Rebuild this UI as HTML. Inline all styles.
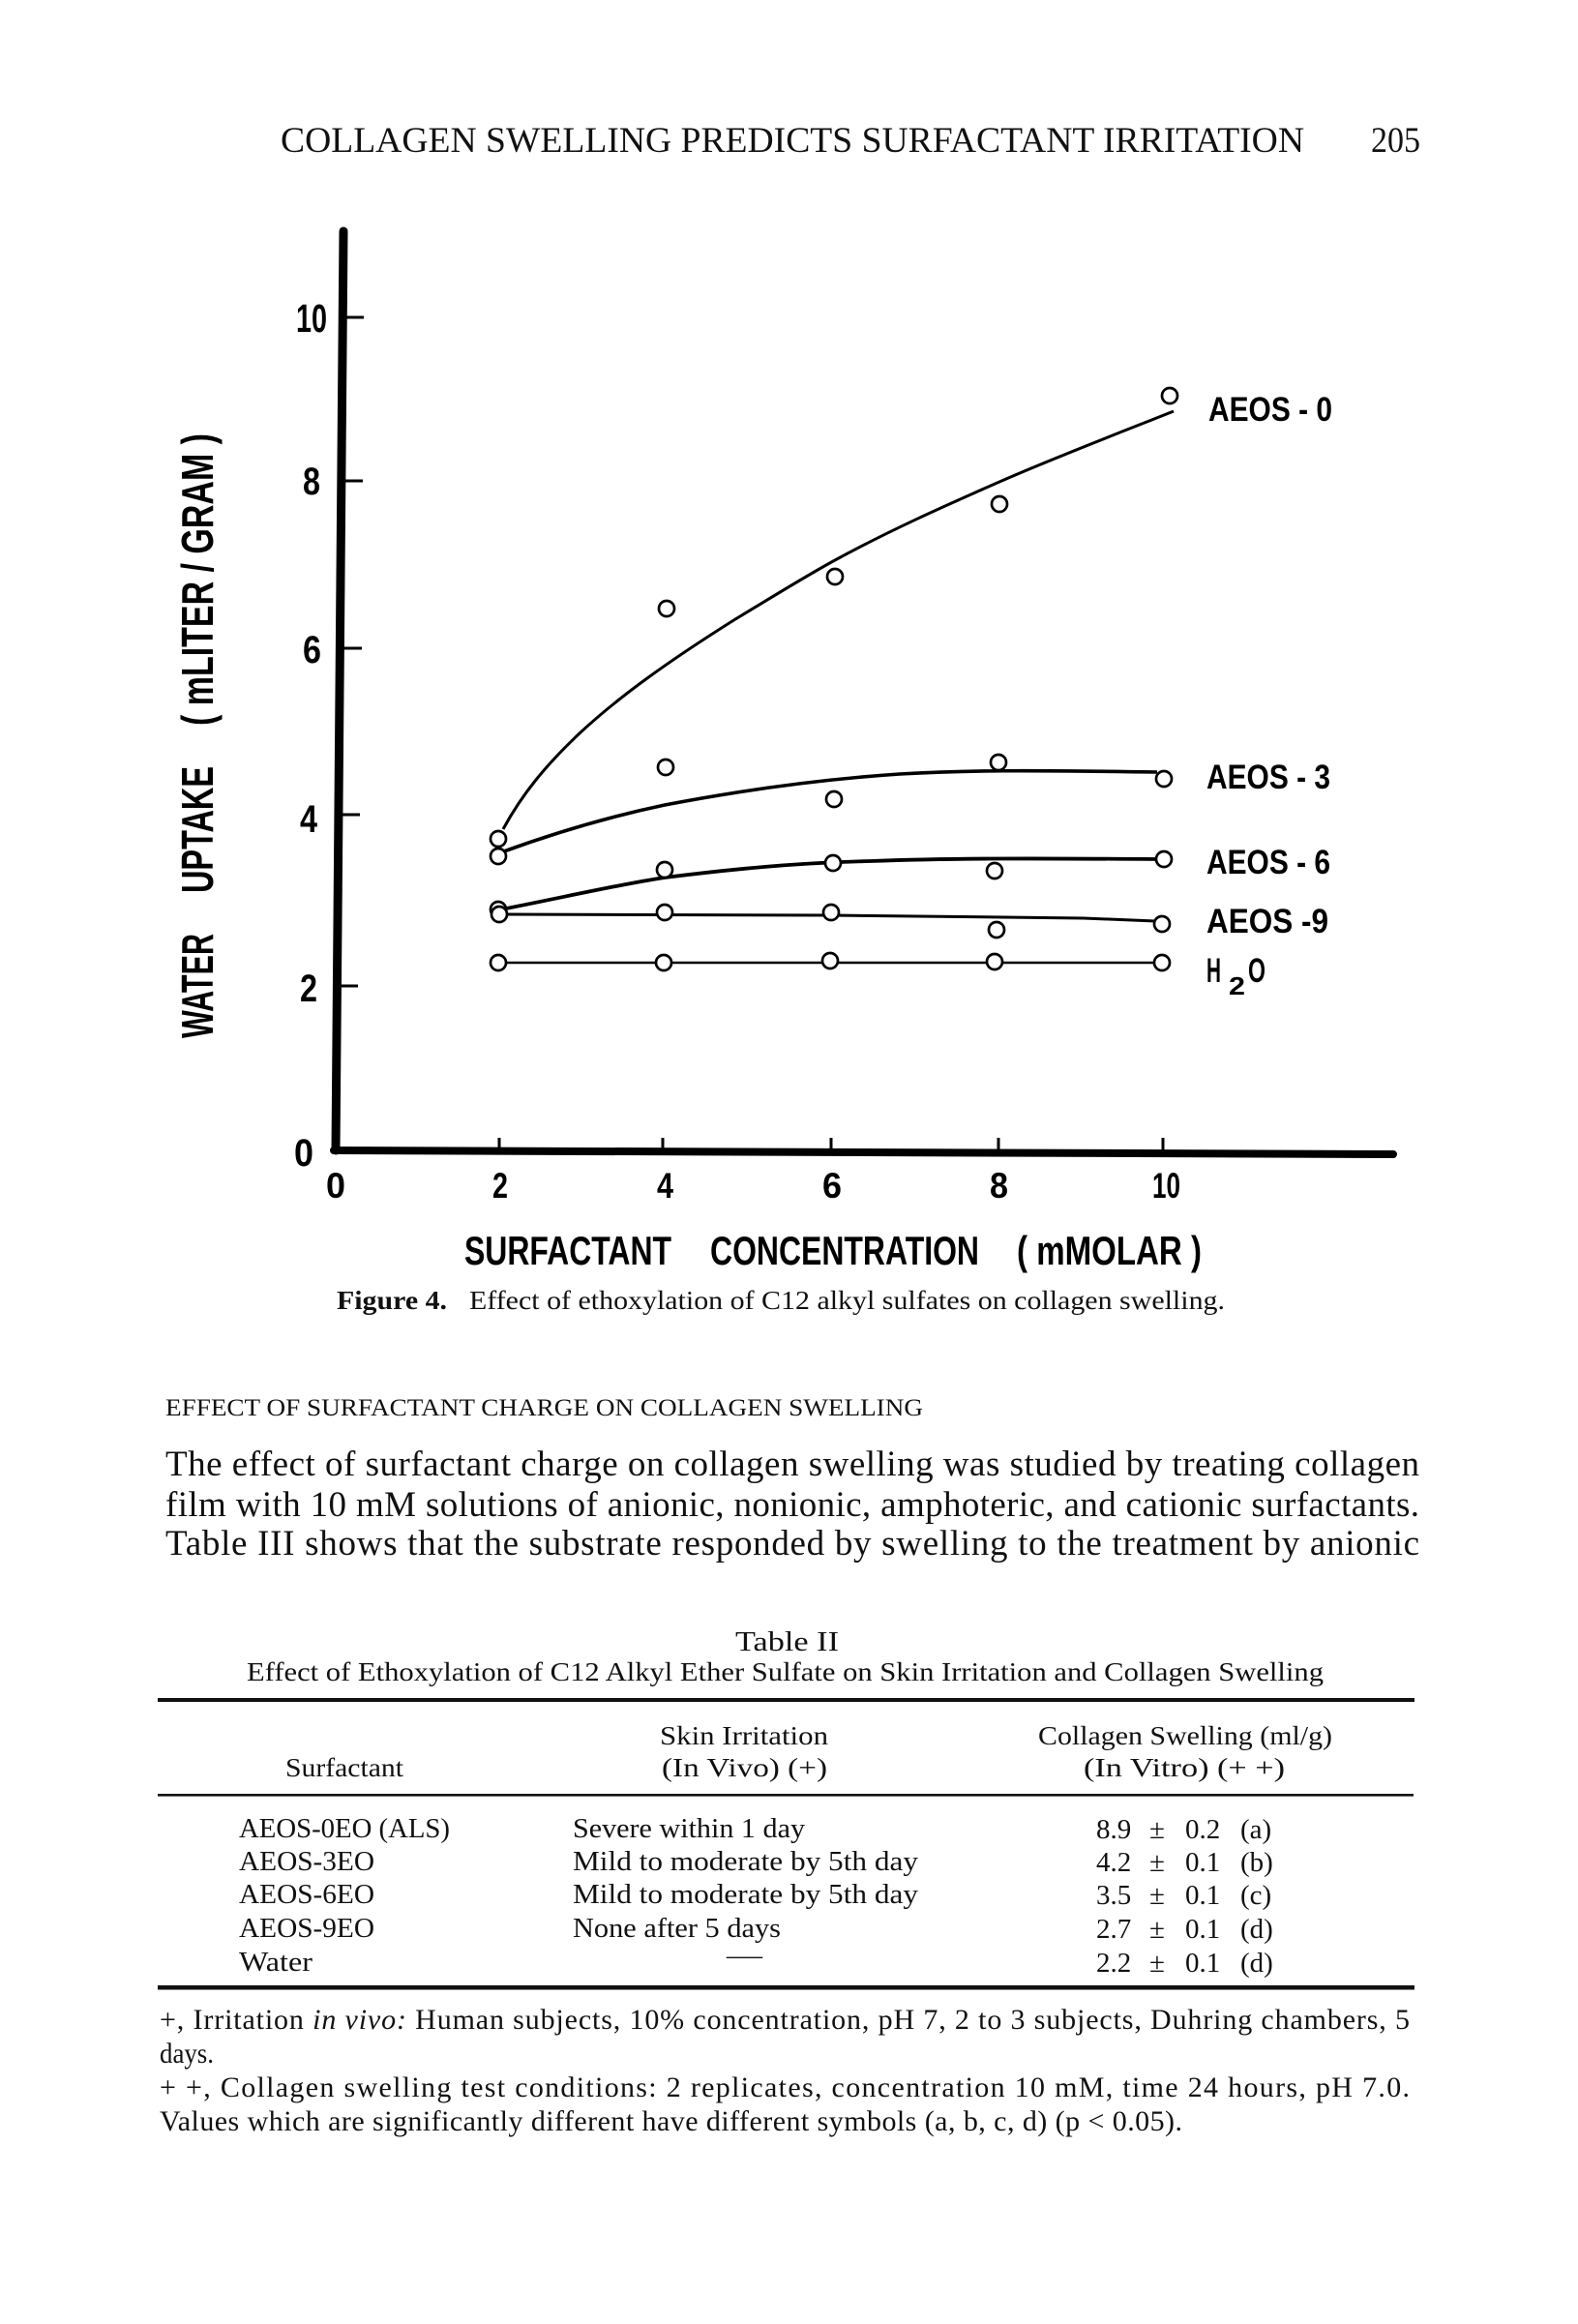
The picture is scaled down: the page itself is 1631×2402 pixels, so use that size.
<!DOCTYPE html>
<html>
<head>
<meta charset="utf-8">
<style>
html,body{margin:0;padding:0;background:#fff;}
svg{display:block;}
.serif{font-family:"Liberation Serif","DejaVu Serif",serif;fill:#111;}
.sans{font-family:"Liberation Sans","DejaVu Sans",sans-serif;font-weight:bold;fill:#000;}
</style>
</head>
<body>
<svg width="1631" height="2402" viewBox="0 0 1631 2402" xmlns="http://www.w3.org/2000/svg">
<rect x="0" y="0" width="1631" height="2402" fill="#fff"/>

<!-- Running header -->
<text class="serif" x="290" y="157" font-size="37" textLength="1058" lengthAdjust="spacingAndGlyphs">COLLAGEN SWELLING PREDICTS SURFACTANT IRRITATION</text>
<text class="serif" x="1417" y="157" font-size="37" textLength="51" lengthAdjust="spacingAndGlyphs">205</text>

<!-- ===== Chart ===== -->
<g stroke="#000" fill="none">
  <path d="M355,239 L347,1189" stroke-width="9" stroke-linecap="round"/>
  <path d="M345,1189 L1440,1193" stroke-width="8" stroke-linecap="round"/>
  <path d="M352,328 H376 M351,497 H375 M350,670 H374 M349,842 H372 M348,1019 H370" stroke-width="3"/>
  <path d="M516,1176 V1190 M685,1176 V1190 M859,1176 V1191 M1032,1176 V1191 M1202,1176 V1192" stroke-width="3"/>

  <path d="M520,857 C540,820 565,790 600,757 C640,720 690,684 760,640 C800,616 830,597 863,579 C920.3,547.8 974.7,523.7 1033,498 C1091.3,472.3 1183,437.2 1213,425" stroke-width="3"/>
  <path d="M518,881 C570,862 630,844 687,832 C760,818 840,806 930,800 C1000,796 1060,796 1196,798" stroke-width="3.6"/>
  <path d="M518,940 C580,928 640,914 687,907 C760,898 820,892 900,890 C980,887 1060,887 1196,888" stroke-width="3.8"/>
  <path d="M520,945 L860,946 L1120,949 L1194,952" stroke-width="3"/>
  <path d="M523,995 L1194,995" stroke-width="2.6"/>
</g>

<g stroke="#000" stroke-width="2.7" fill="#fff">
  <circle cx="515" cy="867" r="8"/>
  <circle cx="689" cy="629" r="8"/>
  <circle cx="863" cy="596" r="8"/>
  <circle cx="1033" cy="521" r="8"/>
  <circle cx="1209" cy="409" r="8"/>
  <circle cx="515" cy="885" r="8"/>
  <circle cx="688" cy="793" r="8"/>
  <circle cx="862" cy="826" r="8"/>
  <circle cx="1032" cy="788" r="8"/>
  <circle cx="1203" cy="805" r="8"/>
  <circle cx="515" cy="940" r="8"/>
  <circle cx="687" cy="899" r="8"/>
  <circle cx="861" cy="892" r="8"/>
  <circle cx="1028" cy="900" r="8"/>
  <circle cx="1203" cy="888" r="8"/>
  <circle cx="516" cy="945" r="8"/>
  <circle cx="687" cy="943" r="8"/>
  <circle cx="859" cy="943" r="8"/>
  <circle cx="1030" cy="961" r="8"/>
  <circle cx="1201" cy="955" r="8"/>
  <circle cx="515" cy="995" r="8"/>
  <circle cx="686" cy="995" r="8"/>
  <circle cx="858" cy="993" r="8"/>
  <circle cx="1028" cy="994" r="8"/>
  <circle cx="1201" cy="995" r="8"/>
</g>

<text class="sans" x="306" y="343" font-size="41" textLength="32" lengthAdjust="spacingAndGlyphs">10</text>
<text class="sans" x="313" y="511" font-size="40" textLength="18" lengthAdjust="spacingAndGlyphs">8</text>
<text class="sans" x="313" y="685" font-size="40" textLength="19" lengthAdjust="spacingAndGlyphs">6</text>
<text class="sans" x="310" y="860" font-size="40" textLength="18" lengthAdjust="spacingAndGlyphs">4</text>
<text class="sans" x="310" y="1035" font-size="40" textLength="18" lengthAdjust="spacingAndGlyphs">2</text>
<text class="sans" x="304" y="1205" font-size="40" textLength="20" lengthAdjust="spacingAndGlyphs">0</text>

<text class="sans" x="337" y="1238" font-size="37" textLength="20" lengthAdjust="spacingAndGlyphs">0</text>
<text class="sans" x="509" y="1238" font-size="37" textLength="16" lengthAdjust="spacingAndGlyphs">2</text>
<text class="sans" x="679" y="1238" font-size="37" textLength="17" lengthAdjust="spacingAndGlyphs">4</text>
<text class="sans" x="850" y="1238" font-size="37" textLength="20" lengthAdjust="spacingAndGlyphs">6</text>
<text class="sans" x="1023" y="1238" font-size="37" textLength="19" lengthAdjust="spacingAndGlyphs">8</text>
<text class="sans" x="1191" y="1238" font-size="37" textLength="29" lengthAdjust="spacingAndGlyphs">10</text>

<text class="sans" x="480" y="1307" font-size="42" textLength="214" lengthAdjust="spacingAndGlyphs">SURFACTANT</text>
<text class="sans" x="734" y="1307" font-size="42" textLength="278" lengthAdjust="spacingAndGlyphs">CONCENTRATION</text>
<text class="sans" x="1051" y="1307" font-size="42" textLength="191" lengthAdjust="spacingAndGlyphs">( mMOLAR )</text>

<text class="sans" transform="translate(220,1073) rotate(-90)" x="0" y="0" font-size="46" textLength="108" lengthAdjust="spacingAndGlyphs">WATER</text>
<text class="sans" transform="translate(220,923) rotate(-90)" x="0" y="0" font-size="46" textLength="131" lengthAdjust="spacingAndGlyphs">UPTAKE</text>
<text class="sans" transform="translate(220,750) rotate(-90)" x="0" y="0" font-size="46" textLength="302" lengthAdjust="spacingAndGlyphs">( mLITER / GRAM )</text>

<text class="sans" x="1249" y="435" font-size="35" textLength="128" lengthAdjust="spacingAndGlyphs">AEOS - 0</text>
<text class="sans" x="1247" y="815" font-size="35" textLength="128" lengthAdjust="spacingAndGlyphs">AEOS - 3</text>
<text class="sans" x="1247" y="903" font-size="35" textLength="128" lengthAdjust="spacingAndGlyphs">AEOS - 6</text>
<text class="sans" x="1247" y="964" font-size="35" textLength="126" lengthAdjust="spacingAndGlyphs">AEOS -9</text>
<text class="sans" x="1247" y="1015" font-size="35" textLength="15" lengthAdjust="spacingAndGlyphs">H</text>
<text class="sans" x="1270" y="1028" font-size="26" textLength="17" lengthAdjust="spacingAndGlyphs">2</text>
<text class="sans" x="1290" y="1015" font-size="35" textLength="18" lengthAdjust="spacingAndGlyphs">O</text>

<text class="serif" x="348" y="1353" font-size="27" font-weight="bold" textLength="114" lengthAdjust="spacingAndGlyphs">Figure 4.</text>
<text class="serif" x="485" y="1353" font-size="27" textLength="781" lengthAdjust="spacingAndGlyphs">Effect of ethoxylation of C12 alkyl sulfates on collagen swelling.</text>

<text class="serif" x="171" y="1463" font-size="25" textLength="783" lengthAdjust="spacingAndGlyphs">EFFECT OF SURFACTANT CHARGE ON COLLAGEN SWELLING</text>

<text class="serif" x="171" y="1525" font-size="37" textLength="1296" lengthAdjust="spacing">The effect of surfactant charge on collagen swelling was studied by treating collagen</text>
<text class="serif" x="171" y="1567" font-size="37" textLength="1296" lengthAdjust="spacing">film with 10 mM solutions of anionic, nonionic, amphoteric, and cationic surfactants.</text>
<text class="serif" x="171" y="1607" font-size="37" textLength="1296" lengthAdjust="spacing">Table III shows that the substrate responded by swelling to the treatment by anionic</text>

<text class="serif" x="760" y="1706" font-size="28" textLength="107" lengthAdjust="spacingAndGlyphs">Table II</text>
<text class="serif" x="255" y="1737" font-size="27" textLength="1113" lengthAdjust="spacingAndGlyphs">Effect of Ethoxylation of C12 Alkyl Ether Sulfate on Skin Irritation and Collagen Swelling</text>

<rect x="163" y="1755" width="1299" height="4" fill="#111"/>
<rect x="163" y="1854" width="1298" height="2.6" fill="#111"/>
<rect x="163" y="2052" width="1299" height="4.5" fill="#111"/>

<text class="serif" x="682" y="1803" font-size="27" textLength="174" lengthAdjust="spacingAndGlyphs">Skin Irritation</text>
<text class="serif" x="1073" y="1803" font-size="27" textLength="304" lengthAdjust="spacingAndGlyphs">Collagen Swelling (ml/g)</text>
<text class="serif" x="295" y="1836" font-size="27" textLength="122" lengthAdjust="spacingAndGlyphs">Surfactant</text>
<text class="serif" x="684" y="1836" font-size="27" textLength="171" lengthAdjust="spacingAndGlyphs">(In Vivo) (+)</text>
<text class="serif" x="1120" y="1836" font-size="27" textLength="208" lengthAdjust="spacingAndGlyphs">(In Vitro) (+ +)</text>

<text class="serif" x="247" y="1899" font-size="28" textLength="218" lengthAdjust="spacingAndGlyphs">AEOS-0EO (ALS)</text>
<text class="serif" x="247" y="1933" font-size="28" textLength="140" lengthAdjust="spacingAndGlyphs">AEOS-3EO</text>
<text class="serif" x="247" y="1967" font-size="28" textLength="140" lengthAdjust="spacingAndGlyphs">AEOS-6EO</text>
<text class="serif" x="247" y="2002" font-size="28" textLength="140" lengthAdjust="spacingAndGlyphs">AEOS-9EO</text>
<text class="serif" x="247" y="2037" font-size="28" textLength="76" lengthAdjust="spacingAndGlyphs">Water</text>

<text class="serif" x="592" y="1899" font-size="28" textLength="240" lengthAdjust="spacingAndGlyphs">Severe within 1 day</text>
<text class="serif" x="592" y="1933" font-size="28" textLength="357" lengthAdjust="spacingAndGlyphs">Mild to moderate by 5th day</text>
<text class="serif" x="592" y="1967" font-size="28" textLength="357" lengthAdjust="spacingAndGlyphs">Mild to moderate by 5th day</text>
<text class="serif" x="592" y="2002" font-size="28" textLength="215" lengthAdjust="spacingAndGlyphs">None after 5 days</text>
<text class="serif" x="751" y="2030" font-size="28" textLength="37" lengthAdjust="spacingAndGlyphs">—</text>

<g class="serif" font-size="29">
  <text class="serif" y="1900"><tspan x="1133">8.9</tspan><tspan x="1188">±</tspan><tspan x="1225">0.2</tspan><tspan x="1282">(a)</tspan></text>
  <text class="serif" y="1934"><tspan x="1133">4.2</tspan><tspan x="1188">±</tspan><tspan x="1225">0.1</tspan><tspan x="1282">(b)</tspan></text>
  <text class="serif" y="1968"><tspan x="1133">3.5</tspan><tspan x="1188">±</tspan><tspan x="1225">0.1</tspan><tspan x="1282">(c)</tspan></text>
  <text class="serif" y="2003"><tspan x="1133">2.7</tspan><tspan x="1188">±</tspan><tspan x="1225">0.1</tspan><tspan x="1282">(d)</tspan></text>
  <text class="serif" y="2038"><tspan x="1133">2.2</tspan><tspan x="1188">±</tspan><tspan x="1225">0.1</tspan><tspan x="1282">(d)</tspan></text>
</g>

<text class="serif" x="165" y="2097" font-size="30" textLength="1292" lengthAdjust="spacing">+, Irritation <tspan font-style="italic">in vivo:</tspan> Human subjects, 10% concentration, pH 7, 2 to 3 subjects, Duhring chambers, 5</text>
<text class="serif" x="165" y="2132" font-size="30" textLength="56" lengthAdjust="spacingAndGlyphs">days.</text>
<text class="serif" x="165" y="2167" font-size="30" textLength="1292" lengthAdjust="spacing">+ +, Collagen swelling test conditions: 2 replicates, concentration 10 mM, time 24 hours, pH 7.0.</text>
<text class="serif" x="165" y="2202" font-size="30" textLength="1057" lengthAdjust="spacing">Values which are significantly different have different symbols (a, b, c, d) (p &lt; 0.05).</text>

</svg>
</body>
</html>
